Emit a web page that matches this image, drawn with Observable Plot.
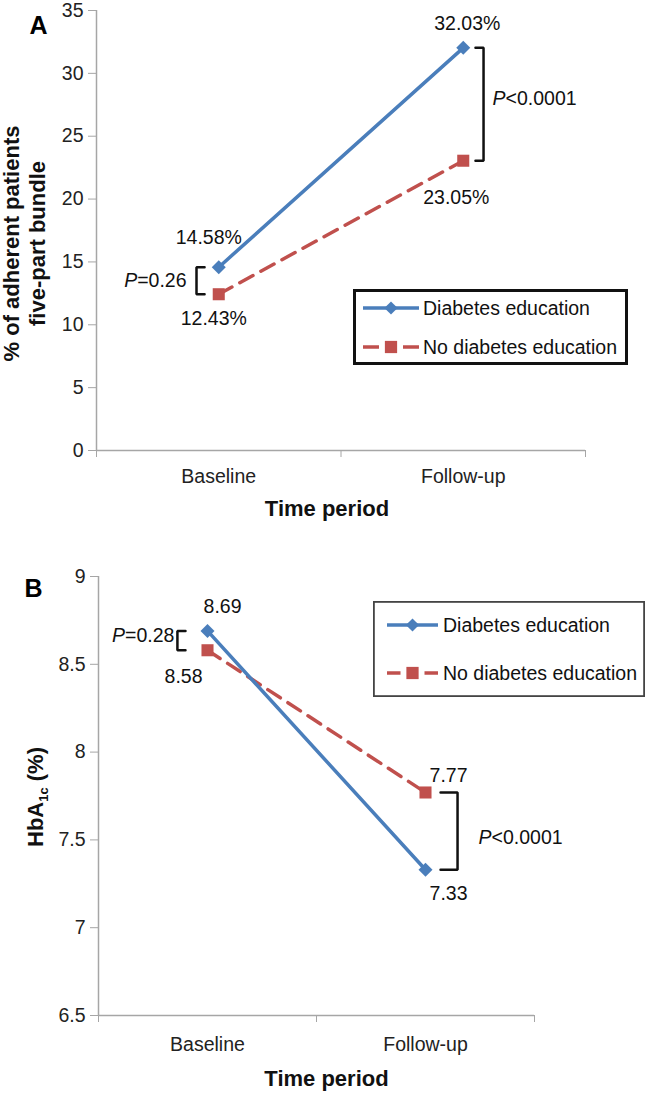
<!DOCTYPE html>
<html><head><meta charset="utf-8">
<script src="https://cdn.jsdelivr.net/npm/d3@7"></script>
<script src="https://cdn.jsdelivr.net/npm/@observablehq/plot@0.6"></script>
<style>
body{margin:0;background:#fff;font-family:"Liberation Sans",Arial,sans-serif;}
#wrap{position:relative;width:652px;height:1098px;overflow:hidden;}
.panel{position:relative;width:652px;}
</style></head><body>
<div id="wrap"></div>
<script>
// ---- data ----
const periods = ["Baseline", "Follow-up"];
const seriesNames = ["Diabetes education", "No diabetes education"];
const adherenceEdu = [14.58, 32.03];
const adherenceNoEdu = [12.43, 23.05];
const adherenceLabels = [["14.58%", "32.03%"], ["12.43%", "23.05%"]];
const hba1cEdu = [8.69, 7.33];
const hba1cNoEdu = [8.58, 7.77];
const hba1cLabels = [["8.69", "7.33"], ["8.58", "7.77"]];
const adherenceTicks = [0, 5, 10, 15, 20, 25, 30, 35];
const hba1cTicks = [6.5, 7, 7.5, 8, 8.5, 9];
const pTextA = ["P=0.26", "P<0.0001"];
const pTextB = ["P=0.28", "P<0.0001"];
const colors = ["#4a7ebb", "#c0504d"];
const FONT = "Liberation Sans, Arial, sans-serif";
const NS = "http://www.w3.org/2000/svg";

function rows(edu, noEdu) {
  return periods.flatMap((p, i) => [
    {period: p, x: i + 0.5, s: 0, v: edu[i]},
    {period: p, x: i + 0.5, s: 1, v: noEdu[i]}
  ]);
}
const catPos = periods.map((_, i) => i + 0.5);
const boundaries = d3.range(periods.length + 1);

function seriesMarks(data) {
  const a = data.filter(d => d.s === 0), b = data.filter(d => d.s === 1);
  return [
    Plot.line(b, {x: "x", y: "v", stroke: colors[1], strokeWidth: 3.5, strokeDasharray: "15,9"}),
    Plot.line(a, {x: "x", y: "v", stroke: colors[0], strokeWidth: 3.5}),
    Plot.dot(b, {x: "x", y: "v", symbol: "square", r: 6.8, fill: colors[1]}),
    Plot.dot(a, {x: "x", y: "v", symbol: "diamond2", r: 6.3, fill: colors[0]})
  ];
}

function bracket(xv, w, v1, v2) {
  return Plot.line([{x: xv + w, y: v1}, {x: xv, y: v1}, {x: xv, y: v2}, {x: xv + w, y: v2}],
    {x: "x", y: "y", stroke: "#111", strokeWidth: 2.5, strokeLinejoin: "miter"});
}

function labelMarks(data, labels, offsets) {
  return data.map(d => {
    const i = periods.indexOf(d.period);
    const [dx, dy] = offsets[d.s][i];
    return Plot.text([d], {x: "x", y: "v", text: () => labels[d.s][i], dx, dy, fontSize: 19.5, fill: "#111"});
  });
}

function postProcess(svg) {
  svg.querySelectorAll("text, tspan").forEach(t => {
    if (t.children.length) return;
    const s = t.textContent;
    if (/^P[=<]/.test(s)) {
      t.textContent = "";
      const it = document.createElementNS(NS, "tspan");
      it.setAttribute("font-style", "italic");
      it.textContent = "P";
      t.append(it, s.slice(1));
    } else if (s === "HbA1c (%)") {
      t.textContent = "";
      const sub = document.createElementNS(NS, "tspan");
      sub.setAttribute("font-size", "13");
      sub.setAttribute("dy", "5");
      sub.textContent = "1c";
      const rest = document.createElementNS(NS, "tspan");
      rest.setAttribute("dy", "-5");
      rest.textContent = " (%)";
      t.append("HbA", sub, rest);
    }
  });
}

function legend(container, o) {
  const svg = d3.create("svg").attr("width", o.width).attr("height", o.height)
    .style("position", "absolute").style("left", o.left + "px").style("top", o.top + "px")
    .style("font-family", FONT);
  svg.append("rect").attr("x", o.bw / 2).attr("y", o.bw / 2)
    .attr("width", o.width - o.bw).attr("height", o.height - o.bw)
    .attr("fill", "white").attr("stroke", o.border).attr("stroke-width", o.bw);
  seriesNames.forEach((name, i) => {
    const y = o.rows[i], L = o.x1 - o.x0, cx = (o.x0 + o.x1) / 2;
    svg.append("line").attr("x1", o.x0).attr("x2", o.x1).attr("y1", y).attr("y2", y)
      .attr("stroke", colors[i]).attr("stroke-width", 3.5)
      .attr("stroke-dasharray", i ? `${(L - 24) / 2},24` : null);
    svg.append("path").attr("d", d3.symbol(i ? d3.symbolSquare : d3.symbolDiamond2, i ? 150 : 110)())
      .attr("transform", `translate(${cx},${y})`).attr("fill", colors[i]);
    svg.append("text").attr("x", o.tx).attr("y", y).attr("dy", "0.35em")
      .attr("font-size", 19.5).attr("fill", "#111").text(name);
  });
  container.append(svg.node());
}

const wrap = document.getElementById("wrap");

// ---- Panel A ----
{
  const data = rows(adherenceEdu, adherenceNoEdu);
  const div = document.createElement("div"); div.className = "panel"; wrap.append(div);
  const plot = Plot.plot({
    width: 652, height: 548,
    marginLeft: 96, marginRight: 67, marginTop: 10, marginBottom: 98,
    style: {fontFamily: FONT, fontSize: "19px", color: "#111", background: "white", overflow: "visible"},
    x: {domain: [0, periods.length]},
    y: {domain: [0, 35]},
    marks: [
      Plot.ruleX([0], {y1: 0, y2: 35, stroke: "#a6a6a6", strokeWidth: 1.5}),
      Plot.ruleY([0], {x1: 0, x2: periods.length, stroke: "#a6a6a6", strokeWidth: 1.5}),
      Plot.axisY({ticks: adherenceTicks, tickSize: 8, tickPadding: 5, stroke: "#a6a6a6", fill: "#222", fontSize: 19.5, label: null}),
      Plot.axisX({ticks: boundaries, tickSize: 7, tickFormat: () => "", stroke: "#a6a6a6", label: null}),
      Plot.axisX({ticks: catPos, tickSize: 0, tickPadding: 19, tickFormat: d => periods[Math.floor(d)], fill: "#222", fontSize: 19.5, label: null}),
      ...seriesMarks(data),
      ...labelMarks(data, adherenceLabels, [[[-10, -29], [4, -24]], [[-5, 25], [-7, 37]]]),
      bracket(0.409, 0.033, adherenceEdu[0], adherenceNoEdu[0]),
      bracket(1.583, -0.033, adherenceEdu[1], adherenceNoEdu[1]),
      Plot.text([pTextA[0]], {x: 0.409, y: (adherenceEdu[0] + adherenceNoEdu[0]) / 2, dx: -10, textAnchor: "end", fontSize: 19.5, fill: "#111"}),
      Plot.text([pTextA[1]], {x: 1.583, y: (adherenceEdu[1] + adherenceNoEdu[1]) / 2, dx: 9, dy: -6, textAnchor: "start", fontSize: 19.5, fill: "#111"}),
      Plot.text(["Time period"], {frameAnchor: "bottom", dx: -14, dy: 65, fontSize: 22, fontWeight: "bold", fill: "#111"}),
      Plot.text(["% of adherent patients\nfive-part bundle"], {frameAnchor: "left", textAnchor: "middle", dx: -73, dy: 13, rotate: -90, fontSize: 22, fontWeight: "bold", lineHeight: 1.2, fill: "#111"}),
      Plot.text(["A"], {frameAnchor: "top-left", dx: -67, dy: 6, fontSize: 25, fontWeight: "bold", fill: "#000"})
    ]
  });
  postProcess(plot);
  div.append(plot);
  legend(div, {left: 353, top: 289, width: 275, height: 76, bw: 3, border: "#111", rows: [19, 58], x0: 10, x1: 66, tx: 70});
}

// ---- Panel B ----
{
  const data = rows(hba1cEdu, hba1cNoEdu);
  const div = document.createElement("div"); div.className = "panel"; wrap.append(div);
  const plot = Plot.plot({
    width: 652, height: 550,
    marginLeft: 98, marginRight: 118, marginTop: 28, marginBottom: 83,
    style: {fontFamily: FONT, fontSize: "19px", color: "#111", background: "white", overflow: "visible"},
    x: {domain: [0, periods.length]},
    y: {domain: [6.5, 9]},
    marks: [
      Plot.ruleX([0], {y1: 6.5, y2: 9, stroke: "#a6a6a6", strokeWidth: 1.5}),
      Plot.ruleY([6.5], {x1: 0, x2: periods.length, stroke: "#a6a6a6", strokeWidth: 1.5}),
      Plot.axisY({ticks: hba1cTicks, tickFormat: d => String(d), tickSize: 8, tickPadding: 5, stroke: "#a6a6a6", fill: "#222", fontSize: 19.5, label: null}),
      Plot.axisX({ticks: boundaries, tickSize: 7, tickFormat: () => "", stroke: "#a6a6a6", label: null}),
      Plot.axisX({ticks: catPos, tickSize: 0, tickPadding: 22, tickFormat: d => periods[Math.floor(d)], fill: "#222", fontSize: 19.5, label: null}),
      ...seriesMarks(data),
      ...labelMarks(data, hba1cLabels, [[[15, -24], [23, 24]], [[-24, 26], [23, -17]]]),
      bracket(0.362, 0.037, hba1cEdu[0], hba1cNoEdu[0]),
      bracket(1.647, -0.078, hba1cNoEdu[1], hba1cEdu[1]),
      Plot.text([pTextB[0]], {x: 0.362, y: (hba1cEdu[0] + hba1cNoEdu[0]) / 2, dx: -3, dy: -5, textAnchor: "end", fontSize: 19.5, fill: "#111"}),
      Plot.text([pTextB[1]], {x: 1.647, y: (hba1cEdu[1] + hba1cNoEdu[1]) / 2, dx: 21, dy: 7, textAnchor: "start", fontSize: 19.5, fill: "#111"}),
      Plot.text(["Time period"], {frameAnchor: "bottom", dx: 10, dy: 70, fontSize: 22, fontWeight: "bold", fill: "#111"}),
      Plot.text(["HbA1c (%)"], {frameAnchor: "left", textAnchor: "middle", dx: -63, dy: 1, rotate: -90, fontSize: 22, fontWeight: "bold", fill: "#111"}),
      Plot.text(["B"], {frameAnchor: "top-left", dx: -74, dy: 3, fontSize: 25, fontWeight: "bold", fill: "#000"})
    ]
  });
  postProcess(plot);
  div.append(plot);
  legend(div, {left: 373, top: 53, width: 272, height: 96, bw: 1.8, border: "#444", rows: [24, 72], x0: 14, x1: 65, tx: 70});
}
</script>
</body></html>
